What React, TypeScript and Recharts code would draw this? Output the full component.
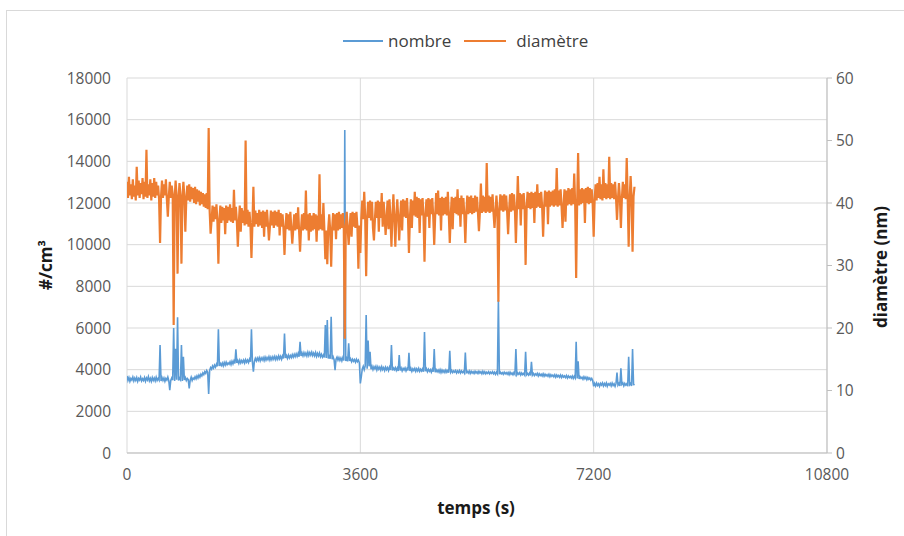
import React from "react";
import { LineChart, Line, XAxis, YAxis, CartesianGrid } from "recharts";

// Sampling interval of the logged series (s)
const SAMPLE_STEP = 15;

// Particle number concentration (#/cm³), one value per sample
const nombre: number[] = [
  3700, 3480, 3620, 3440, 3580, 3500, 3640, 3460, 3600, 3480,
  3620, 3440, 3580, 3500, 3640, 3460, 3560, 3480, 3620, 3440,
  3600, 3500, 3660, 3460, 3580, 3440, 3620, 3480, 3600, 3460,
  3640, 3480, 3580, 3500, 5180, 3460, 3620, 3480, 3600, 3440,
  3580, 3500, 3640, 3460, 3020, 3480, 3600, 3500, 6000, 3460,
  5000, 3520, 6510, 3480, 3600, 3520, 5180, 3460, 4620, 3500,
  3620, 3480, 3580, 3520, 3100, 3500, 3640, 3480, 3600, 3540,
  3660, 3560, 3700, 3600, 3740, 3640, 3780, 3700, 3840, 3760,
  3900, 3820, 3960, 3880, 2830, 3960, 4100, 4020, 4180, 4080,
  4220, 4120, 4260, 4160, 5940, 4180, 4300, 4200, 4320, 4180,
  4340, 4220, 4360, 4240, 4320, 4260, 4380, 4240, 4400, 4280,
  4420, 4300, 4980, 4320, 4440, 4300, 4460, 4320, 4440, 4340,
  4460, 4320, 4480, 4360, 4460, 4340, 4500, 4380, 5940, 4360,
  3900, 4400, 4540, 4420, 4560, 4440, 4580, 4420, 4560, 4460,
  4580, 4440, 4600, 4460, 4580, 4480, 4620, 4460, 4600, 4480,
  4620, 4500, 4640, 4480, 4620, 4500, 4660, 4520, 4640, 4500,
  4660, 4540, 5740, 4560, 4680, 4540, 4700, 4560, 4680, 4580,
  4720, 4600, 4740, 4620, 4760, 4640, 4780, 4620, 5340, 4660,
  4800, 4660, 4820, 4680, 4800, 4660, 4840, 4680, 4820, 4700,
  4840, 4680, 4800, 4660, 4820, 4640, 4780, 4660, 4800, 4620,
  4740, 4600, 4700, 4580, 6140, 4560, 6380, 4540, 4640, 4520,
  6540, 4500, 4620, 4480, 3980, 4500, 4600, 4460, 4580, 4440,
  4560, 4420, 4580, 4440, 15500, 4420, 4540, 4400, 5260, 4420,
  4520, 4380, 4500, 4400, 4480, 4360, 4500, 4380, 4460, 4340,
  3340, 3660, 4040, 4160, 4000, 4180, 6620, 4040, 5400, 4160,
  4860, 4020, 4160, 4000, 4140, 4040, 4160, 3980, 4140, 4020,
  4120, 3980, 4140, 4000, 4100, 3960, 4120, 4000, 4100, 3960,
  4120, 3980, 5180, 3960, 4080, 4000, 4100, 3960, 4080, 3940,
  4700, 3960, 4080, 3940, 4060, 3980, 4080, 3940, 4060, 3960,
  4810, 3940, 4060, 3920, 4040, 3960, 4060, 3920, 4040, 3940,
  4060, 3920, 4020, 3940, 4040, 3900, 5810, 3920, 4040, 3900,
  4020, 3920, 4000, 3880, 4020, 3900, 4990, 3880, 4000, 3900,
  3980, 3880, 4000, 3860, 3980, 3880, 3960, 3860, 3980, 3880,
  3960, 3860, 4910, 3880, 3960, 3860, 3940, 3880, 3960, 3840,
  3940, 3860, 3960, 3840, 3940, 3860, 3920, 3840, 4820, 3860,
  3920, 3840, 3940, 3820, 3920, 3840, 3900, 3820, 3920, 3840,
  3900, 3820, 3920, 3840, 3900, 3800, 3920, 3820, 3900, 3800,
  3880, 3820, 3900, 3800, 3880, 3820, 3900, 3800, 3880, 3780,
  3880, 3800, 7340, 3780, 3880, 3800, 3860, 3780, 3880, 3800,
  3860, 3780, 3860, 3760, 3880, 3780, 3840, 3760, 3860, 3780,
  4990, 3760, 3840, 3780, 3860, 3740, 3840, 3760, 3820, 3740,
  4860, 3760, 3820, 3740, 3840, 3720, 4380, 3740, 3820, 3720,
  3800, 3740, 3820, 3700, 3800, 3720, 3780, 3700, 3800, 3680,
  3780, 3700, 3760, 3680, 3780, 3660, 3760, 3680, 3740, 3660,
  3760, 3640, 3740, 3660, 3720, 3640, 3740, 3620, 3720, 3640,
  3700, 3620, 3720, 3600, 3700, 3620, 3680, 3600, 3700, 3580,
  3680, 3600, 5340, 3580, 4400, 3560, 3660, 3580, 3640, 3540,
  3660, 3560, 3640, 3520, 3620, 3540, 3600, 3500, 3580, 3480,
  3200, 3340, 3220, 3360, 3240, 3320, 3200, 3340, 3260, 3360,
  3220, 3340, 3240, 3360, 3200, 3320, 3260, 3340, 3220, 3360,
  3240, 3320, 3200, 3340, 3860, 3260, 3340, 3220, 4070, 3300,
  3360, 3220, 3340, 3260, 3320, 3200, 4620, 3280, 3340, 3220,
  4990, 3300, 3260,
];

// Mean particle diameter (nm), one value per sample
const diametre: number[] = [
  43.4, 40.8, 44.2, 41.2, 43.0, 40.6, 43.8, 41.0, 42.8, 40.4,
  45.8, 41.2, 43.6, 40.8, 43.2, 41.4, 44.0, 40.6, 43.4, 41.0,
  48.5, 40.8, 43.0, 41.2, 43.8, 40.4, 43.2, 41.0, 44.0, 40.8,
  43.4, 41.2, 42.8, 40.6, 33.6, 41.0, 43.6, 40.8, 43.0, 41.2,
  43.8, 40.6, 37.8, 41.0, 43.4, 40.8, 42.8, 41.4, 20.5, 40.6,
  43.6, 41.0, 28.7, 40.8, 43.2, 41.2, 30.3, 40.6, 43.4, 41.0,
  35.4, 40.6, 42.8, 40.4, 43.0, 40.2, 42.6, 40.6, 42.4, 40.0,
  42.6, 39.8, 42.2, 40.2, 42.0, 39.6, 41.8, 39.8, 41.6, 39.4,
  41.4, 39.2, 41.6, 39.0, 52.0, 38.8, 35.1, 37.2, 39.6, 37.0,
  39.4, 37.4, 39.8, 37.0, 30.3, 37.2, 39.6, 36.8, 39.4, 37.2,
  39.2, 35.0, 39.6, 36.8, 39.4, 37.2, 39.8, 37.0, 39.2, 36.8,
  42.1, 37.2, 39.4, 37.0, 33.0, 36.8, 39.6, 35.4, 39.2, 36.8,
  38.8, 36.4, 50.0, 36.6, 38.9, 36.2, 38.6, 36.4, 31.2, 36.6,
  42.6, 36.2, 38.8, 36.6, 38.4, 36.2, 38.9, 36.4, 38.6, 36.0,
  38.8, 34.6, 38.6, 36.2, 38.9, 36.6, 34.0, 36.2, 38.8, 36.4,
  38.6, 36.0, 38.8, 36.4, 38.6, 36.2, 38.9, 34.8, 38.4, 36.2,
  38.2, 35.8, 31.7, 36.0, 38.4, 35.8, 38.2, 35.6, 38.6, 36.0,
  33.5, 35.8, 38.2, 35.6, 38.4, 35.8, 39.3, 35.6, 32.2, 35.8,
  38.2, 35.6, 38.4, 35.8, 42.0, 35.6, 38.2, 34.0, 38.4, 35.4,
  38.0, 35.6, 38.4, 35.8, 38.2, 33.8, 38.0, 35.6, 44.6, 35.8,
  38.2, 35.6, 40.0, 35.8, 31.0, 35.6, 30.2, 35.8, 38.2, 35.6,
  29.8, 35.8, 38.4, 35.6, 38.2, 34.2, 38.4, 35.6, 38.6, 35.8,
  38.2, 36.0, 38.4, 35.8, 18.3, 36.0, 38.6, 35.8, 33.3, 36.2,
  38.4, 34.6, 38.6, 36.2, 38.4, 36.0, 38.6, 36.2, 29.5, 36.4,
  32.0, 37.6, 40.4, 37.4, 41.8, 37.6, 28.3, 37.4, 40.2, 37.6,
  40.4, 37.2, 40.2, 36.0, 34.0, 37.4, 40.2, 37.6, 40.4, 35.4,
  40.2, 37.6, 41.6, 36.2, 40.2, 37.8, 34.9, 37.6, 40.4, 35.8,
  40.6, 37.6, 33.0, 37.8, 41.4, 37.6, 33.0, 37.8, 40.6, 37.6,
  34.0, 37.8, 40.4, 35.6, 40.6, 37.8, 40.4, 37.6, 40.8, 37.8,
  32.0, 37.6, 40.6, 36.0, 40.4, 38.0, 41.8, 37.8, 41.0, 37.6,
  40.8, 35.2, 40.6, 38.0, 40.8, 37.8, 30.6, 38.0, 40.6, 37.8,
  40.8, 36.0, 40.6, 38.2, 40.8, 37.8, 33.3, 38.0, 41.6, 38.2,
  42.0, 38.0, 40.8, 35.6, 41.0, 38.0, 40.8, 38.2, 41.0, 38.0,
  41.8, 38.2, 33.6, 38.0, 41.0, 35.8, 40.8, 38.4, 41.0, 38.2,
  42.2, 38.0, 40.8, 36.2, 41.2, 38.2, 40.8, 38.0, 33.6, 38.4,
  41.2, 38.2, 41.0, 38.4, 41.2, 38.2, 40.8, 38.4, 41.2, 38.6,
  41.0, 38.4, 35.5, 38.6, 43.1, 38.4, 41.2, 38.6, 41.0, 38.4,
  46.4, 38.6, 41.2, 38.4, 41.0, 38.6, 41.4, 38.4, 36.0, 38.6,
  41.2, 38.8, 24.2, 38.6, 41.4, 38.8, 41.2, 38.6, 41.4, 38.8,
  41.2, 38.6, 35.0, 38.8, 41.4, 38.6, 41.6, 38.8, 41.4, 39.0,
  33.6, 38.8, 44.3, 39.0, 41.6, 36.4, 41.4, 39.0, 41.6, 39.2,
  30.1, 39.0, 41.8, 39.2, 41.6, 39.0, 41.8, 39.2, 41.6, 36.8,
  41.8, 39.2, 43.0, 39.4, 41.6, 39.2, 41.8, 39.4, 34.6, 39.2,
  42.0, 39.4, 41.8, 36.6, 42.0, 39.4, 41.8, 39.6, 42.0, 39.4,
  42.2, 39.6, 45.6, 39.4, 42.0, 39.6, 42.2, 39.4, 36.0, 39.6,
  42.2, 37.0, 42.0, 39.6, 42.4, 39.8, 42.2, 39.6, 42.4, 39.8,
  44.7, 39.6, 28.0, 39.8, 48.0, 39.6, 42.2, 39.8, 42.4, 40.0,
  42.2, 36.8, 42.4, 40.0, 42.6, 39.8, 42.4, 40.0, 42.2, 39.8,
  34.6, 40.6, 43.0, 40.4, 43.2, 40.8, 44.2, 40.6, 43.0, 40.4,
  45.4, 40.8, 43.2, 40.6, 43.0, 40.8, 47.4, 40.6, 43.2, 40.8,
  43.0, 40.6, 43.4, 40.8, 37.3, 40.6, 43.2, 40.8, 36.0, 40.6,
  43.4, 40.8, 43.0, 40.6, 47.2, 40.8, 33.0, 40.6, 44.3, 40.8,
  32.2, 41.0, 42.6,
];

const timeTicks = [0, 3600, 7200, 10800];
const countTicks = [0, 2000, 4000, 6000, 8000, 10000, 12000, 14000, 16000, 18000];
const diameterTicks = [0, 10, 20, 30, 40, 50, 60];

const rows = nombre.map((n, i) => ({
  t: i * SAMPLE_STEP,
  nombre: n,
  diametre: diametre[i],
}));

const BLUE = "#5b9bd5";
const ORANGE = "#ed7d31";
const FONT = "'Open Sans', 'Liberation Sans', sans-serif";
const tickStyle = { fill: "#595959", fontSize: 15.5, fontFamily: FONT };
const titleStyle: React.CSSProperties = {
  position: "absolute",
  fontFamily: FONT,
  fontWeight: 700,
  fontSize: 17,
  color: "#1a1a1a",
  whiteSpace: "nowrap",
};

export default function App() {
  return (
    <div
      style={{
        position: "absolute",
        left: 0,
        top: 0,
        width: 904,
        height: 536,
        background: "#fff",
        overflow: "hidden",
      }}
    >
      <div
        style={{
          position: "absolute",
          left: 6,
          top: 10,
          width: 920,
          height: 560,
          border: "1px solid #d9d9d9",
        }}
      />
      <LineChart
        width={904}
        height={536}
        data={rows}
        margin={{ top: 78, right: 17, bottom: 53, left: 67 }}
        style={{ position: "absolute", left: 0, top: 0 }}
      >
        <CartesianGrid yAxisId="left" stroke="#d9d9d9" strokeWidth={1} />
        <XAxis
          dataKey="t"
          type="number"
          domain={[0, 10800]}
          ticks={timeTicks}
          tickLine={false}
          axisLine={{ stroke: "#bfbfbf" }}
          tick={tickStyle}
          tickSize={6}
          tickMargin={10}
          height={30}
          allowDataOverflow
        />
        <YAxis
          yAxisId="left"
          domain={[0, 18000]}
          ticks={countTicks}
          tickLine={false}
          axisLine={false}
          tick={tickStyle}
          tickSize={6}
          tickMargin={10}
          width={60}
          interval={0}
        />
        <YAxis
          yAxisId="right"
          orientation="right"
          domain={[0, 60]}
          ticks={diameterTicks}
          tickLine={{ stroke: "#bfbfbf" }}
          axisLine={{ stroke: "#bfbfbf" }}
          tick={tickStyle}
          tickSize={5}
          tickMargin={4}
          width={60}
          interval={0}
        />
        <Line
          yAxisId="left"
          type="linear"
          dataKey="nombre"
          stroke={BLUE}
          strokeWidth={1.6}
          dot={false}
          isAnimationActive={false}
        />
        <Line
          yAxisId="right"
          type="linear"
          dataKey="diametre"
          stroke={ORANGE}
          strokeWidth={2.2}
          dot={false}
          isAnimationActive={false}
        />
      </LineChart>

      {/* legend */}
      <div
        style={{
          position: "absolute",
          top: 29,
          left: 343,
          display: "flex",
          alignItems: "center",
          fontFamily: FONT,
          fontSize: 17,
          color: "#404040",
          whiteSpace: "nowrap",
        }}
      >
        <span style={{ display: "inline-block", width: 40, height: 2, background: BLUE }} />
        <span style={{ marginLeft: 5 }}>nombre</span>
        <span style={{ display: "inline-block", width: 42, height: 2, background: ORANGE, marginLeft: 13 }} />
        <span style={{ marginLeft: 10 }}>diamètre</span>
      </div>

      {/* axis titles */}
      <div
        style={{
          ...titleStyle,
          left: 45,
          top: 265,
          transform: "translate(-50%, -50%) rotate(-90deg)",
        }}
      >
        #/cm³
      </div>
      <div
        style={{
          ...titleStyle,
          left: 880,
          top: 267,
          transform: "translate(-50%, -50%) rotate(-90deg)",
        }}
      >
        diamètre (nm)
      </div>
      <div
        style={{
          ...titleStyle,
          left: 476,
          top: 507,
          transform: "translate(-50%, -50%)",
        }}
      >
        temps (s)
      </div>
    </div>
  );
}
